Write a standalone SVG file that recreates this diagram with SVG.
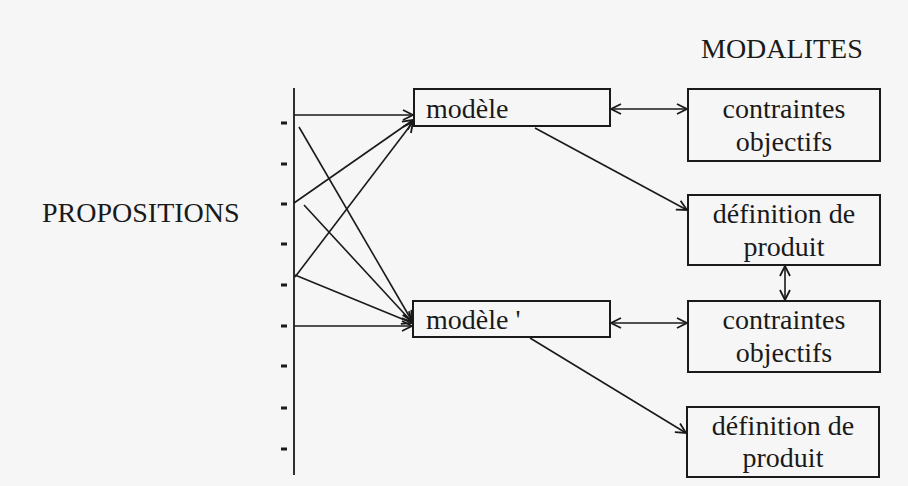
<svg xmlns="http://www.w3.org/2000/svg" width="908" height="486" viewBox="0 0 908 486">
<defs>
<marker id="ah" viewBox="0 0 12 12" refX="11" refY="6" markerWidth="12" markerHeight="12" markerUnits="userSpaceOnUse" orient="auto-start-reverse">
<path d="M1,1 L11,6 L1,11" fill="none" stroke="#1a1a1a" stroke-width="1.8"/>
</marker>
<style>
.t{font-family:"Liberation Serif","Times New Roman",serif;font-size:28px;fill:#1a1a1a}
.c{text-anchor:middle}
.box{fill:none;stroke:#1a1a1a;stroke-width:2}
.ln{stroke:#1a1a1a;stroke-width:1.8;fill:none}
.ar{stroke:#1a1a1a;stroke-width:1.6;fill:none;marker-end:url(#ah)}
.dar{stroke:#1a1a1a;stroke-width:1.6;fill:none;marker-end:url(#ah);marker-start:url(#ah)}
.tk{stroke:#1a1a1a;stroke-width:3}
</style>
</defs>
<rect width="908" height="486" fill="#f6f6f6"/>
<g id="titles">
<text class="t" x="42" y="222">PROPOSITIONS</text>
<text class="t" x="701" y="58">MODALITES</text>
</g>
<g id="axis">
<line class="ln" x1="294" y1="88" x2="294" y2="475"/>
<g class="tk">
<line x1="281" y1="123" x2="287" y2="123"/>
<line x1="281" y1="164" x2="287" y2="164"/>
<line x1="281" y1="204" x2="287" y2="204"/>
<line x1="281" y1="244" x2="287" y2="244"/>
<line x1="281" y1="285" x2="287" y2="285"/>
<line x1="281" y1="326" x2="287" y2="326"/>
<line x1="281" y1="366" x2="287" y2="366"/>
<line x1="281" y1="408" x2="287" y2="408"/>
<line x1="281" y1="449" x2="287" y2="449"/>
</g>
</g>
<g id="modele1">
<rect class="box" x="414" y="89" width="196" height="37"/>
<text class="t" x="426" y="118">modèle</text>
</g>
<g id="modele2">
<rect class="box" x="413" y="301" width="197" height="36"/>
<text class="t" x="426" y="329">modèle '</text>
</g>
<g id="contraintes1">
<rect class="box" x="688" y="89" width="192" height="72"/>
<text class="t c" x="784" y="118">contraintes</text>
<text class="t c" x="784" y="151">objectifs</text>
</g>
<g id="definition1">
<rect class="box" x="688" y="195" width="192" height="70"/>
<text class="t c" x="784" y="223">définition de</text>
<text class="t c" x="784" y="256">produit</text>
</g>
<g id="contraintes2">
<rect class="box" x="688" y="301" width="192" height="71"/>
<text class="t c" x="784" y="329">contraintes</text>
<text class="t c" x="784" y="362">objectifs</text>
</g>
<g id="definition2">
<rect class="box" x="687" y="407" width="192" height="70"/>
<text class="t c" x="783" y="435">définition de</text>
<text class="t c" x="783" y="467">produit</text>
</g>
<g id="connectors">
<line class="ar" x1="294" y1="115" x2="413" y2="115"/>
<line class="ar" x1="294" y1="203" x2="413" y2="120"/>
<line class="ar" x1="295" y1="277" x2="413" y2="122"/>
<line class="ar" x1="299" y1="127" x2="412" y2="321"/>
<line class="ar" x1="304" y1="205" x2="412" y2="322"/>
<line class="ar" x1="295" y1="275" x2="412" y2="323"/>
<line class="ar" x1="294" y1="326" x2="412" y2="326"/>
<line class="dar" x1="611" y1="109" x2="687" y2="109"/>
<line class="dar" x1="611" y1="323" x2="687" y2="323"/>
<line class="dar" x1="785" y1="266" x2="785" y2="300"/>
<line class="ar" x1="535" y1="128" x2="687" y2="210"/>
<line class="ar" x1="530" y1="338" x2="686" y2="433"/>
</g>
</svg>
